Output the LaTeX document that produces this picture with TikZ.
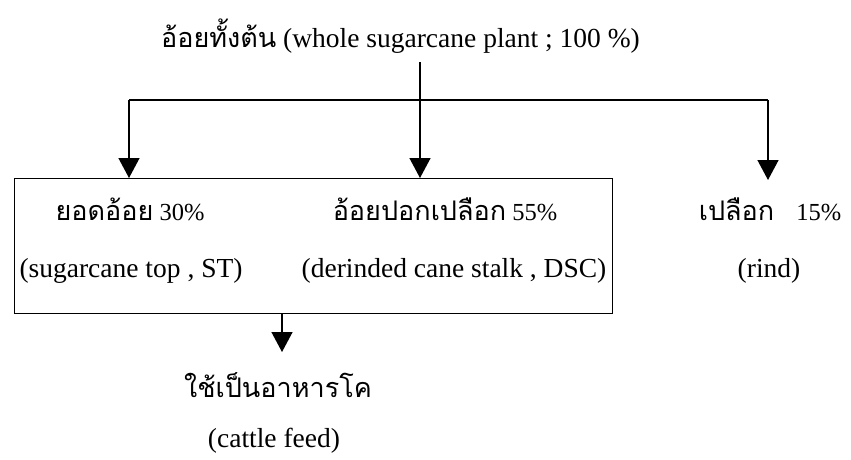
\documentclass[tikz,border=0pt]{standalone}
\usepackage{fontspec}
\setmainfont{Liberation Serif}
\newfontfamily\thai[Script=Thai]{Loma}
\usetikzlibrary{arrows.meta}
\tikzset{
  conn/.style={line width=1.4pt},
  arr/.style={conn,-{Triangle[width=21pt,length=20pt]}},
  boxst/.style={draw,line width=1.2pt},
  eng/.style={font=\fontsize{27.5}{30}\selectfont,inner sep=0pt},
  th/.style={font=\fontsize{24.5}{28}\selectfont,inner sep=0pt},
}
\newcommand{\tht}[1]{{\thai\fontsize{27}{30}\selectfont #1}}
\begin{document}
\begin{tikzpicture}[x=1pt,y=1pt]
\useasboundingbox[fill=white] (0,0) rectangle (851,-459);
% title
\node[eng,anchor=base east] (title) at (640,-47) {\tht{อ้อยทั้งต้น} (whole sugarcane plant ; 100 \%)};
% box
\node[boxst,minimum width=598pt,minimum height=135pt,inner sep=0pt,anchor=north west] (box) at (14,-178) {};
% labels
\node[th,anchor=base] (stth) at (130,-220) {\tht{ยอดอ้อย} 30\%};
\node[eng,anchor=base] (sten) at (131,-277) {(sugarcane top , ST)};
\node[th,anchor=base] (dscth) at (445,-220) {\tht{อ้อยปอกเปลือก} 55\%};
\node[eng,anchor=base] (dscen) at (454,-277) {(derinded cane stalk , DSC)};
\node[th,anchor=base] (rindth) at (770,-220) {\tht{เปลือก}\hspace{22pt}15\%};
\node[eng,anchor=base] (rinden) at (769,-277) {(rind)};
\node[th,anchor=base] (feedth) at (278,-397) {\tht{ใช้เป็นอาหารโค}};
\node[eng,anchor=base] (feeden) at (274,-447) {(cattle feed)};
% connector points
\coordinate (top) at (420,-62);
\coordinate (lc) at (129,-100);
\coordinate (rc) at (768,-100);
\coordinate (ltip) at (129,-178);
\coordinate (mtip) at (420,-178);
\coordinate (rtip) at (768,-180);
\coordinate (bfrom) at (282,-313);
\coordinate (btip) at (282,-352);
% connectors
\draw[conn] (lc) -- (rc);
\draw[arr] (top) -- (mtip);
\draw[arr] (lc) -- (ltip);
\draw[arr] (rc) -- (rtip);
\draw[arr] (bfrom) -- (btip);
\end{tikzpicture}
\end{document}
